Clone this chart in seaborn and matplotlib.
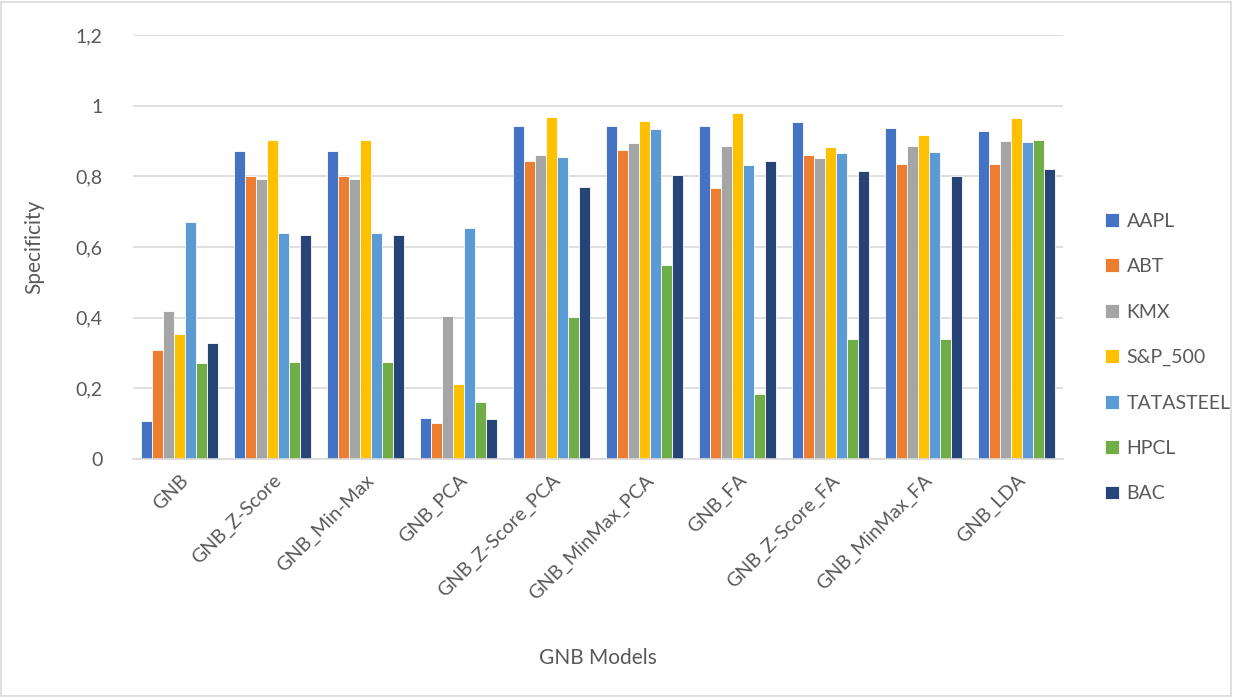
import matplotlib
matplotlib.use("Agg")
import matplotlib.pyplot as plt
from matplotlib.ticker import FuncFormatter
from matplotlib.patches import Rectangle
import seaborn as sns
import pandas as pd

models = ["GNB", "GNB_Z-Score", "GNB_Min-Max", "GNB_PCA", "GNB_Z-Score_PCA",
          "GNB_MinMax_PCA", "GNB_FA", "GNB_Z-Score_FA", "GNB_MinMax_FA", "GNB_LDA"]
stocks = ["AAPL", "ABT", "KMX", "S&P_500", "TATASTEEL", "HPCL", "BAC"]

aapl = [0.108, 0.873, 0.873, 0.117, 0.943, 0.943, 0.943, 0.954, 0.937, 0.928]
abt = [0.309, 0.801, 0.801, 0.102, 0.844, 0.874, 0.766, 0.860, 0.835, 0.835]
kmx = [0.418, 0.792, 0.792, 0.405, 0.860, 0.894, 0.887, 0.853, 0.885, 0.900]
sp500 = [0.353, 0.902, 0.902, 0.211, 0.968, 0.957, 0.980, 0.884, 0.918, 0.964]
tatasteel = [0.671, 0.641, 0.641, 0.655, 0.854, 0.934, 0.832, 0.866, 0.869, 0.896]
hpcl = [0.273, 0.275, 0.275, 0.161, 0.403, 0.548, 0.183, 0.340, 0.340, 0.902]
bac = [0.327, 0.635, 0.635, 0.112, 0.769, 0.803, 0.842, 0.814, 0.800, 0.822]

colors = ["#4472C4", "#ED7D31", "#A5A5A5", "#FFC000", "#5B9BD5", "#70AD47", "#264478"]

series = [aapl, abt, kmx, sp500, tatasteel, hpcl, bac]
rows = []
for name, vals in zip(stocks, series):
    for m, v in zip(models, vals):
        rows.append({"Model": m, "Stock": name, "Specificity": v})
df = pd.DataFrame(rows)

sns.set_theme(style="white")
plt.rcParams["font.family"] = ["Lato", "DejaVu Sans"]
text_color = "#595959"
grid_color = "#D9D9D9"

fig = plt.figure(figsize=(12.33, 6.97), dpi=100)
ax = fig.add_axes([133 / 1233, 1 - 459 / 697, 930 / 1233, 424 / 697])

sns.barplot(data=df, x="Model", y="Specificity", hue="Stock", order=models,
            hue_order=stocks, palette=colors, width=0.82, ax=ax,
            edgecolor="white", linewidth=0.6, saturation=1, errorbar=None)

ax.set_ylim(0, 1.2)
ax.set_xlim(-0.5, len(models) - 0.5)
ax.set_yticks([0, 0.2, 0.4, 0.6, 0.8, 1.0, 1.2])
ax.yaxis.set_major_formatter(FuncFormatter(
    lambda v, p: ("%g" % round(v, 1)).replace(".", ",")))
ax.grid(axis="y", color=grid_color, linewidth=1.2)
ax.set_axisbelow(True)
for s in ["top", "right", "left"]:
    ax.spines[s].set_visible(False)
ax.spines["bottom"].set_color(grid_color)
ax.spines["bottom"].set_linewidth(1.2)
ax.tick_params(axis="both", length=0, colors=text_color, labelsize=14)
ax.tick_params(axis="y", pad=22)
plt.setp(ax.get_xticklabels(), rotation=45, ha="right", va="top",
         rotation_mode="anchor")
ax.tick_params(axis="x", pad=9)

ax.set_xlabel("GNB Models", fontsize=15, color=text_color)
ax.set_ylabel("Specificity", fontsize=15, color=text_color)
ax.xaxis.set_label_coords(0.5, -0.445)
ax.yaxis.set_label_coords(-0.095, 0.5)

ax.legend(loc="upper left", bbox_to_anchor=(1095 / 1233, 1 - 203 / 697),
          bbox_transform=fig.transFigure, frameon=False, fontsize=14,
          labelcolor=text_color, handlelength=0.72, handleheight=0.72,
          handletextpad=0.4, labelspacing=1.46, borderpad=0, title=None)

fig.patches.append(Rectangle((1 / 1233, 1 / 697), 1 - 3 / 1233, 1 - 3 / 697,
                             transform=fig.transFigure, fill=False,
                             edgecolor=grid_color, linewidth=1.2))

fig.savefig("out.png", dpi=100, facecolor="white")
